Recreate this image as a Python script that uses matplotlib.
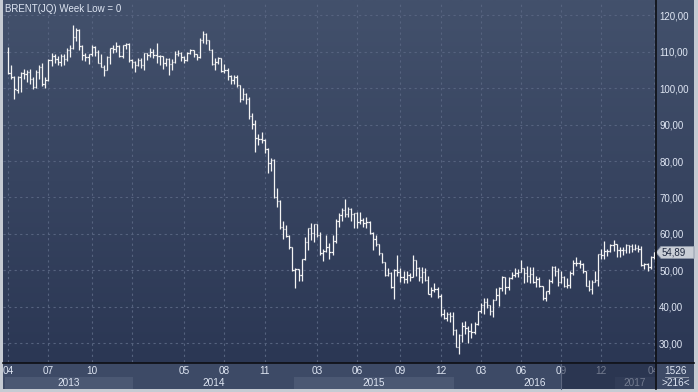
import numpy as np
import pandas as pd
import matplotlib
matplotlib.use('Agg')
import matplotlib.pyplot as plt
import matplotlib.dates as mdates
from matplotlib.collections import LineCollection
from matplotlib.patches import Rectangle, Polygon

plt.rcParams['font.family'] = ['Liberation Sans', 'DejaVu Sans']

# ---- data ----
title = 'BRENT(JQ) Week Low = 0'
first_week = '2013-04-01'

opens = [
    110.0, 104.1, 103.0, 99.6, 103.2, 104.2, 103.9, 104.6, 102.6, 100.4, 104.6, 105.9, 101.2, 102.2,
    107.7, 108.8, 108.1, 107.2, 108.9, 108.0, 110.4, 111.0, 114.0, 116.1, 111.7, 109.2, 108.6, 109.5,
    111.3, 109.9, 106.9, 105.9, 105.1, 108.5, 111.1, 110.8, 111.6, 108.8, 111.8, 112.2,
    107.9, 107.3, 106.5, 107.9, 106.4, 109.6, 109.1, 110.1, 109.1, 109.0, 108.9, 106.9, 108.1, 106.7,
    107.3, 109.5, 109.6, 108.6, 107.9, 109.8, 110.5, 109.4, 108.6, 113.4, 114.8, 113.3, 110.6, 106.7,
    107.2, 108.4, 104.8, 105.0, 103.5, 102.3, 103.2, 100.8, 97.1, 98.4, 97.0, 92.3, 90.2, 86.2,
    86.1, 85.9, 83.4, 79.4, 80.4, 70.2, 69.1, 61.9, 61.4, 59.5,
    56.4, 50.1, 50.2, 48.8, 53.0, 57.8, 61.5, 60.2, 62.6, 59.7, 54.7, 55.3, 56.4, 55.0,
    57.9, 63.5, 65.3, 66.5, 65.4, 66.8, 65.4, 65.6, 63.3, 63.9, 63.0, 63.3, 60.3, 58.7,
    57.1, 54.6, 52.2, 48.6, 49.2, 45.5, 50.1, 49.6, 48.1, 47.5, 48.6, 48.1, 52.7, 50.5,
    48.0, 49.6, 47.4, 43.6, 44.7, 44.9, 43.0, 37.9, 36.9, 38.1,
    37.3, 33.6, 28.9, 32.2, 34.7, 34.1, 33.4, 33.0, 35.1, 38.7, 40.4, 41.2, 40.4, 38.7,
    41.9, 43.1, 45.1, 48.1, 45.4, 47.8, 48.7, 49.3, 49.6, 50.5, 49.2, 48.4, 49.0, 46.8,
    47.6, 45.7, 42.5, 44.3, 47.0, 50.9, 49.9, 46.8, 48.0, 45.8, 45.9, 49.1, 51.9, 52.0,
    51.8, 49.7, 45.6, 44.8, 46.9, 47.2, 54.5, 54.3, 55.2, 55.2,
    56.8, 57.1, 55.5, 55.5, 55.5, 56.8, 56.7, 55.8, 56.0, 55.9, 51.4, 51.8, 50.8, 53.5,
]
highs = [
    111.3, 106.3, 103.5, 103.4, 104.6, 105.2, 105.0, 105.3, 103.1, 104.9, 106.4, 107.0, 103.2, 108.0,
    109.6, 109.3, 108.8, 109.4, 109.3, 111.0, 111.9, 117.3, 116.6, 116.2, 112.0, 109.8, 109.5, 111.9,
    111.5, 110.4, 109.4, 106.3, 108.8, 111.1, 112.0, 112.6, 111.8, 112.0, 112.4, 112.4,
    108.0, 107.6, 108.4, 108.3, 109.7, 109.7, 111.0, 110.8, 112.4, 109.1, 108.9, 108.3, 108.4, 108.1,
    110.2, 110.4, 110.0, 108.8, 110.1, 110.8, 110.5, 109.5, 113.7, 115.7, 115.1, 113.4, 110.7, 108.4,
    108.6, 108.4, 106.8, 105.6, 103.6, 103.7, 103.6, 100.9, 100.0, 98.6, 97.6, 93.2, 91.3, 87.5,
    87.9, 86.0, 83.7, 80.7, 80.5, 72.5, 69.2, 63.6, 62.4, 59.6,
    56.5, 50.7, 50.4, 53.0, 59.1, 61.7, 63.0, 62.7, 62.7, 60.5, 55.9, 59.7, 57.6, 59.8,
    64.0, 65.8, 67.1, 69.6, 67.3, 67.1, 65.8, 65.9, 65.9, 64.4, 64.7, 63.6, 60.5, 59.6,
    57.3, 54.8, 52.2, 50.7, 49.6, 50.4, 54.2, 50.6, 49.9, 49.7, 49.2, 54.2, 52.9, 50.9,
    50.8, 50.7, 48.5, 45.5, 46.4, 45.4, 43.4, 39.4, 38.4, 38.6,
    38.5, 33.8, 32.4, 35.8, 36.0, 34.6, 35.6, 35.8, 38.8, 41.1, 42.5, 42.3, 40.5, 42.0,
    45.0, 45.4, 48.5, 48.1, 48.1, 49.5, 50.5, 50.4, 52.9, 50.5, 51.2, 50.9, 50.9, 48.5,
    48.0, 45.8, 44.4, 47.6, 51.2, 51.2, 50.5, 49.9, 48.3, 47.9, 49.8, 52.8, 53.7, 52.8,
    51.9, 49.8, 47.2, 47.2, 49.8, 54.5, 55.7, 57.9, 55.7, 57.2,
    58.4, 57.2, 56.5, 56.3, 57.3, 57.0, 57.3, 57.1, 56.8, 56.6, 51.9, 52.1, 53.8, 55.0,
]
lows = [
    104.0, 102.5, 97.0, 98.6, 99.0, 102.5, 101.6, 101.3, 99.9, 100.2, 102.6, 100.7, 100.1, 101.9,
    106.0, 106.9, 106.5, 106.0, 106.4, 107.4, 108.6, 110.8, 113.1, 110.6, 107.8, 107.4, 106.6, 108.9,
    108.9, 106.9, 105.9, 103.4, 104.9, 106.6, 109.7, 110.1, 108.5, 108.3, 110.8, 107.2,
    105.5, 104.6, 106.1, 105.7, 104.9, 107.9, 108.5, 108.2, 107.0, 106.3, 105.4, 106.1, 103.7, 105.0,
    107.0, 108.9, 107.6, 106.9, 107.4, 109.5, 108.5, 107.9, 108.3, 112.4, 112.3, 110.4, 106.5, 104.9,
    106.6, 104.4, 104.2, 102.4, 101.1, 101.2, 100.3, 96.2, 96.8, 95.8, 91.6, 88.8, 82.6, 84.5,
    84.9, 82.1, 76.8, 77.4, 69.8, 67.5, 61.3, 58.5, 59.2, 55.8,
    49.7, 45.2, 47.0, 47.0, 52.8, 55.6, 58.4, 57.8, 59.1, 54.1, 52.5, 54.9, 53.0, 54.2,
    57.4, 61.9, 63.4, 64.7, 64.6, 63.5, 61.6, 61.6, 62.6, 62.0, 61.7, 60.0, 55.5, 56.7,
    54.1, 51.9, 48.5, 48.3, 45.1, 42.2, 48.5, 46.8, 46.6, 46.6, 47.1, 48.0, 48.5, 47.0,
    46.5, 47.0, 43.5, 42.6, 44.0, 42.4, 37.5, 36.6, 36.1, 35.9,
    32.2, 28.8, 27.1, 30.3, 32.4, 30.0, 31.5, 32.5, 34.9, 38.2, 37.9, 39.5, 37.6, 37.2,
    41.8, 40.1, 44.4, 43.6, 44.6, 47.5, 48.0, 48.2, 49.6, 46.6, 46.7, 46.6, 46.5, 45.5,
    45.5, 41.8, 41.5, 43.5, 46.6, 48.3, 45.6, 46.6, 45.4, 45.2, 45.0, 48.8, 51.2, 50.6,
    49.1, 45.6, 44.2, 43.6, 46.9, 45.6, 53.2, 53.1, 53.8, 55.0,
    55.2, 53.6, 53.6, 54.2, 54.8, 54.8, 55.1, 55.6, 54.9, 51.2, 50.3, 49.7, 50.4, 53.2,
]
closes = [
    104.1, 103.0, 99.7, 103.2, 104.2, 103.9, 104.6, 102.6, 100.4, 104.6, 105.9, 101.2, 102.2, 107.7,
    108.8, 108.1, 107.2, 108.9, 108.0, 110.4, 111.0, 114.0, 116.1, 111.7, 109.2, 108.6, 109.5, 111.3,
    109.9, 106.9, 105.9, 105.1, 108.5, 111.1, 110.8, 111.6, 108.8, 111.8, 112.2, 107.9,
    107.3, 106.5, 107.9, 106.4, 109.6, 109.1, 110.1, 109.1, 109.0, 108.9, 106.9, 108.1, 106.7, 107.3,
    109.5, 109.6, 108.6, 107.9, 109.8, 110.5, 109.4, 108.6, 113.4, 114.8, 113.3, 110.6, 106.7, 107.2,
    108.4, 104.8, 105.0, 103.5, 102.3, 103.2, 100.8, 97.1, 98.4, 97.0, 92.3, 90.2, 86.2, 86.1,
    85.9, 83.4, 79.4, 80.4, 70.2, 69.1, 61.9, 61.4, 59.5, 56.4,
    50.1, 50.2, 48.8, 53.0, 57.8, 61.5, 60.2, 62.6, 59.7, 54.7, 55.3, 56.4, 55.0, 57.9,
    63.5, 65.3, 66.5, 65.4, 66.8, 65.4, 65.6, 63.3, 63.9, 63.0, 63.3, 60.3, 58.7, 57.1,
    54.6, 52.2, 48.6, 49.2, 45.5, 50.1, 49.6, 48.1, 47.5, 48.6, 48.1, 52.7, 50.5, 48.0,
    49.6, 47.4, 43.6, 44.7, 44.9, 43.0, 37.9, 36.9, 38.1, 37.3,
    33.6, 28.9, 32.2, 34.7, 34.1, 33.4, 33.0, 35.1, 38.7, 40.4, 41.2, 40.4, 38.7, 41.9,
    43.1, 45.1, 48.1, 45.4, 47.8, 48.7, 49.3, 49.6, 50.5, 49.2, 48.4, 49.0, 46.8, 47.6,
    45.7, 42.5, 44.3, 47.0, 50.9, 49.9, 46.8, 48.0, 45.8, 45.9, 49.1, 51.9, 52.0, 51.8,
    49.7, 45.6, 44.8, 46.9, 47.2, 54.5, 54.3, 55.2, 55.2, 56.8,
    57.1, 55.5, 55.5, 55.5, 56.8, 56.7, 55.8, 56.0, 55.9, 51.4, 51.8, 50.8, 53.5, 54.89,
]
last_price = 54.89

y_ticks = [30, 40, 50, 60, 70, 80, 90, 100, 110, 120]
tick_months = ['2013-04', '2013-07', '2013-10', '2014-01', '2014-05', '2014-08', '2014-11',
               '2015-03', '2015-06', '2015-09', '2015-12', '2016-03', '2016-06', '2016-09',
               '2016-12', '2017-04']
tick_labels = ['04', '07', '10', '', '05', '08', '11', '03', '06', '09', '12',
               '03', '06', '09', '12', '04']
years = [2013, 2014, 2015, 2016, 2017]
total_bars = '1526'
shown_bars = '>216<'

# ---- colours ----
bg_top = np.array([67, 81, 108]) / 255
bg_bot = np.array([43, 55, 84]) / 255
row_bg = '#3d4a66'
band_light = '#4b5873'
text_col = '#dfe6f3'
grid_col = '#56637f'
bar_col = '#f4f4f4'
frame_col = '#c6cbd3'

W, H = 698, 392
fig = plt.figure(figsize=(W / 100, H / 100), dpi=100)


def box(x0, y0, x1, y1):
    # pixel box (y measured from the top) -> figure fraction
    return [x0 / W, 1 - y1 / H, (x1 - x0) / W, (y1 - y0) / H]


# background layer in pixel coordinates
bg = fig.add_axes([0, 0, 1, 1])
bg.set_xlim(0, W)
bg.set_ylim(H, 0)
bg.axis('off')
grad = np.linspace(0, 1, 256)[:, None, None]
img = bg_top + (bg_bot - bg_top) * grad
bg.imshow(img, extent=[0, W, 363, 0], aspect='auto', interpolation='bilinear')
bg.add_patch(Rectangle((0, 363), W, H - 363, color=row_bg, lw=0))

# ---- price chart ----
weeks = pd.date_range(first_week, periods=len(closes), freq='7D')
x = mdates.date2num(weeks.to_numpy())
x_left = x[0] - 12
x_right = x_left + 1478

ax = fig.add_axes(box(3, 3, 655, 362))
ax.set_facecolor('none')
for s in ax.spines.values():
    s.set_visible(False)

half = 3.0
segs = []
for xi, o, h, l, c in zip(x, opens, highs, lows, closes):
    segs.append([(xi, l), (xi, h)])
    segs.append([(xi - half, o), (xi, o)])
    segs.append([(xi, c), (xi + half, c)])
ax.add_collection(LineCollection(segs, colors=bar_col, linewidths=0.9, capstyle='butt'))

ax.set_xlim(x_left, x_right)
ax.set_ylim(24.78, 123.43)

month_str = weeks.strftime('%Y-%m')
tick_x = [x[list(month_str).index(m)] for m in tick_months]
ax.set_xticks(tick_x)
ax.tick_params(axis='x', length=0, labelbottom=False)
ax.set_yticks(y_ticks)
ax.set_yticklabels([f'{v:.2f}'.replace('.', ',') for v in y_ticks])
ax.yaxis.tick_right()
ax.tick_params(axis='y', length=0, pad=3, labelsize=7, labelcolor=text_col)
ax.grid(True, color=grid_col, linestyle=(0, (2, 3)), linewidth=0.8)
ax.set_axisbelow(True)

# ---- date strip ----
strip = fig.add_axes(box(3, 364, 655, 389), sharex=ax)
strip.set_facecolor(row_bg)
strip.set_ylim(0, 2)
for s in strip.spines.values():
    s.set_visible(False)
strip.tick_params(left=False, bottom=False, labelleft=False, labelbottom=False)

year_of = weeks.year
starts = []
for yr in years:
    if yr == years[0]:
        starts.append(x_left + 4)
    else:
        starts.append(x[list(year_of).index(yr)] + 3)
ends = starts[1:] + [x_right]
for i, (yr, a, b) in enumerate(zip(years, starts, ends)):
    if i % 2 == 0:
        strip.add_patch(Rectangle((a, 0), b - a, 1, color=band_light, lw=0))
    strip.text((a + b) / 2, 0.45, str(yr), ha='center', va='center', fontsize=7.2,
               color=text_col, clip_on=True)
for tx, lbl in zip(tick_x, tick_labels):
    strip.text(tx, 1.45, lbl, ha='center', va='center', fontsize=7.2, color=text_col,
               clip_on=True)

# ---- foreground chrome ----
fg = fig.add_axes([0, 0, 1, 1])
fg.set_xlim(0, W)
fg.set_ylim(H, 0)
fg.axis('off')

# scroll window overlay on the date strip
fg.add_patch(Rectangle((561, 364), 94, 25, color='#1d2640', alpha=0.55, lw=0))
fg.plot([561, 561], [364, 389], color='#5d6780', lw=0.8)

fg.plot([655.5, 655.5], [0, 389], color='#0d0f14', lw=1.2)
fg.plot([3, 694], [363, 363], color='#0d0f14', lw=1.2)

# frame
fg.add_patch(Rectangle((0, 0), 3, H, color=frame_col, lw=0))
fg.add_patch(Rectangle((694, 0), 4, H, color=frame_col, lw=0))
fg.add_patch(Rectangle((0, 389), W, 3, color=frame_col, lw=0))

fg.text(5, 9, title, fontsize=7, color=text_col, va='center', ha='left')

# last price tag
fig.canvas.draw()
ty = H - ax.transData.transform((x[-1], last_price))[1]
fg.add_patch(Polygon([(656, ty), (661, ty - 6), (694, ty - 6), (694, ty + 6), (661, ty + 6)],
                     closed=True, facecolor='#c9ced6', edgecolor='#8d96a8', lw=0.6))
fg.text(662, ty, f'{last_price:.2f}'.replace('.', ','), fontsize=7, color='#1f2940',
        va='center', ha='left')

fg.text(676, 370.5, total_bars, fontsize=7.2, color=text_col, ha='center', va='center')
fg.plot([665, 688], [376.5, 376.5], color='#8e97a8', lw=0.7)
fg.text(676, 383, shown_bars, fontsize=7.2, color=text_col, ha='center', va='center')

fig.savefig('out.png', dpi=100)
